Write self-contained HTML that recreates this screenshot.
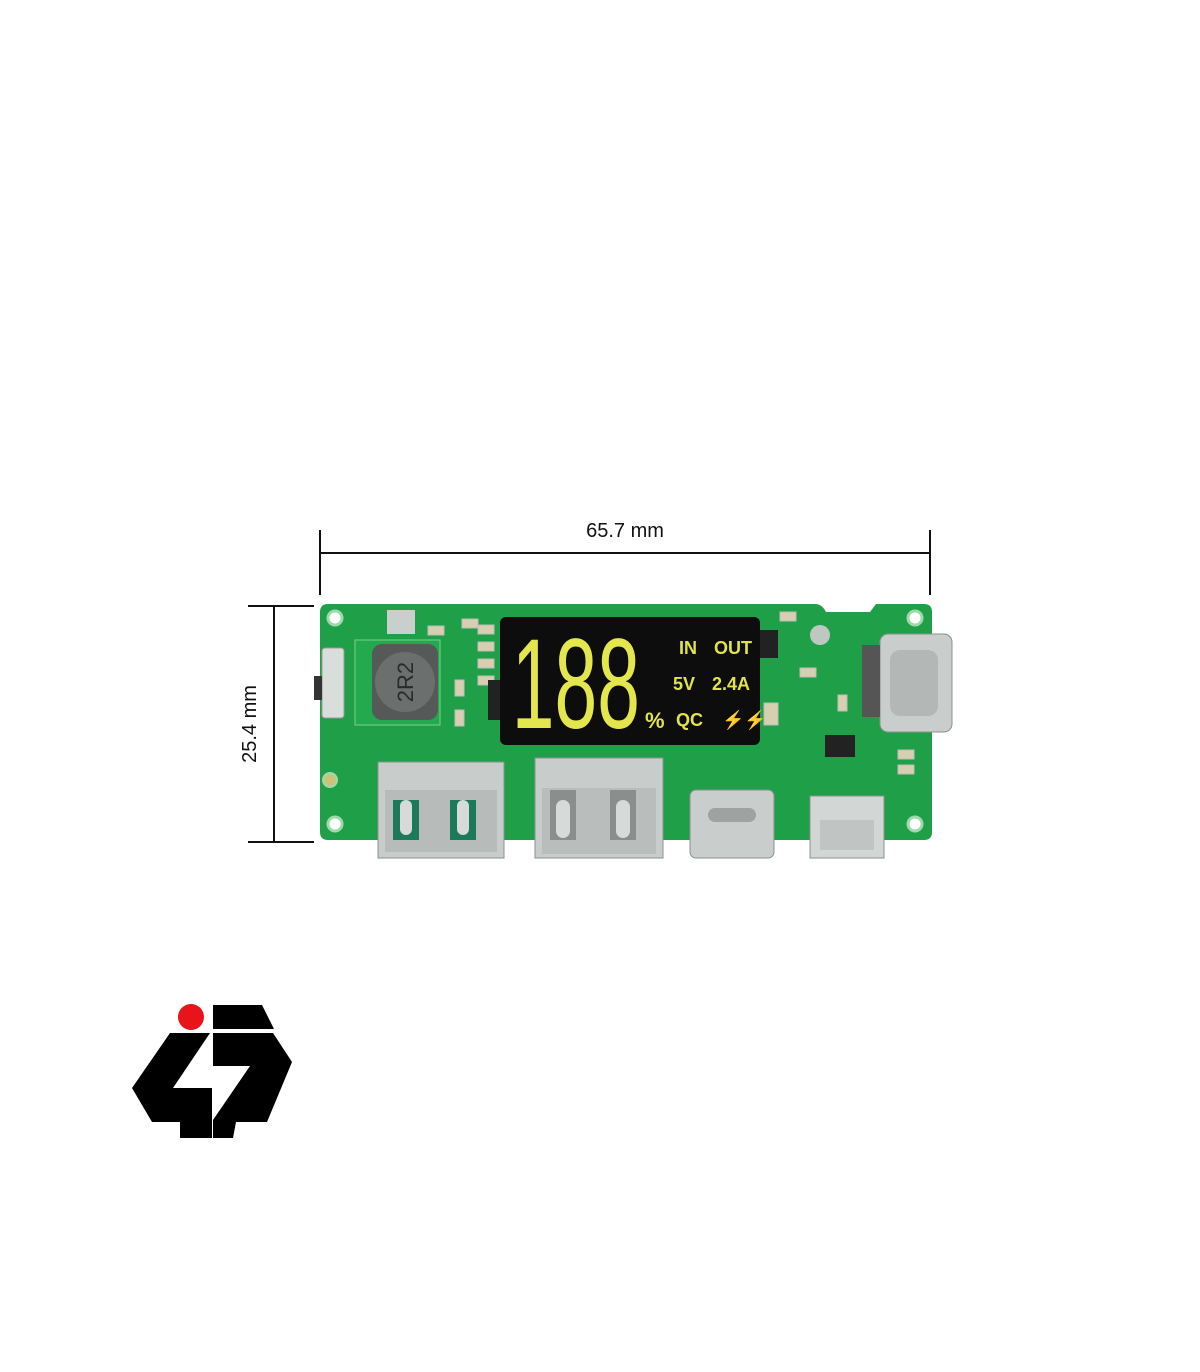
<!DOCTYPE html>
<html><head><meta charset="utf-8"><style>
html,body{margin:0;padding:0;background:#fff;}
svg{display:block;}
text{font-family:"Liberation Sans",sans-serif;}
</style></head><body>
<svg width="1200" height="1372" viewBox="0 0 1200 1372" xmlns="http://www.w3.org/2000/svg">
<rect width="1200" height="1372" fill="#fff"/>
<line x1="320" y1="553" x2="930" y2="553" stroke="#111" stroke-width="2"/>
<line x1="320" y1="530" x2="320" y2="595" stroke="#111" stroke-width="2"/>
<line x1="930" y1="530" x2="930" y2="595" stroke="#111" stroke-width="2"/>
<text x="625" y="537" font-size="20" text-anchor="middle" fill="#111">65.7 mm</text>
<line x1="274" y1="606" x2="274" y2="842" stroke="#111" stroke-width="2"/>
<line x1="248" y1="606" x2="314" y2="606" stroke="#111" stroke-width="2"/>
<line x1="248" y1="842" x2="314" y2="842" stroke="#111" stroke-width="2"/>
<text x="256" y="724" font-size="20" text-anchor="middle" fill="#111" transform="rotate(-90 256 724)">25.4 mm</text>
<path d="M328 604 H815 Q822 604 826 612 H870 L876 604 H924 Q932 604 932 612 V832 Q932 840 924 840 H328 Q320 840 320 832 V612 Q320 604 328 604 Z" fill="#1fa048"/>
<path d="M355 640 H440 V725 H355 Z" fill="#23a94e" stroke="#7ccf8e" stroke-width="1"/>
<circle cx="335" cy="618" r="7" fill="#fff" stroke="#9fd9ac" stroke-width="3"/>
<circle cx="915" cy="618" r="7" fill="#fff" stroke="#9fd9ac" stroke-width="3"/>
<circle cx="335" cy="824" r="7" fill="#fff" stroke="#9fd9ac" stroke-width="3"/>
<circle cx="915" cy="824" r="7" fill="#fff" stroke="#9fd9ac" stroke-width="3"/>
<circle cx="330" cy="780" r="7" fill="#c9c47a" stroke="#9fd9ac" stroke-width="2"/>
<circle cx="820" cy="635" r="10" fill="#bfc7c2"/>
<rect x="387" y="610" width="28" height="24" fill="#c9cfcc"/>
<rect x="322" y="648" width="22" height="70" rx="3" fill="#d9dedb" stroke="#999"/>
<rect x="314" y="676" width="8" height="24" fill="#333"/>
<rect x="372" y="644" width="66" height="76" rx="10" fill="#555a58"/>
<circle cx="405" cy="682" r="30" fill="#6b706e"/>
<text x="405" y="682" font-size="22" fill="#2a2a2a" text-anchor="middle" transform="rotate(-90 405 682)" dy="8">2R2</text>
<g fill="#d8cfb0" stroke="#bbb">
<rect x="462" y="619" width="16" height="9"/><rect x="478" y="625" width="16" height="9"/>
<rect x="478" y="642" width="16" height="9"/><rect x="478" y="659" width="16" height="9"/>
<rect x="478" y="676" width="16" height="9"/><rect x="428" y="626" width="16" height="9"/>
<rect x="455" y="680" width="9" height="16"/><rect x="455" y="710" width="9" height="16"/>
<rect x="764" y="703" width="14" height="22"/><rect x="800" y="668" width="16" height="9"/>
<rect x="838" y="695" width="9" height="16"/><rect x="898" y="750" width="16" height="9"/>
<rect x="898" y="765" width="16" height="9"/><rect x="780" y="612" width="16" height="9"/>
</g>
<rect x="760" y="630" width="18" height="28" fill="#222"/>
<rect x="488" y="680" width="14" height="40" fill="#222"/>
<rect x="825" y="735" width="30" height="22" fill="#222"/>
<rect x="500" y="617" width="260" height="128" rx="6" fill="#0d0d0d"/>
<text x="853" y="728" font-size="128" fill="#e3e64c" transform="scale(0.6 1)">188</text>
<text x="645" y="728" font-size="22" fill="#e0e34a" font-weight="bold">%</text>
<text x="679" y="654" font-size="18" fill="#e0e34a" font-weight="bold">IN</text>
<text x="714" y="654" font-size="18" fill="#e0e34a" font-weight="bold">OUT</text>
<text x="673" y="690" font-size="18" fill="#e0e34a" font-weight="bold">5V</text>
<text x="712" y="690" font-size="18" fill="#e0e34a" font-weight="bold">2.4A</text>
<text x="676" y="726" font-size="18" fill="#e0e34a" font-weight="bold">QC</text>
<text x="722" y="726" font-size="18" fill="#e0e34a" font-weight="bold">⚡⚡</text>
<rect x="378" y="762" width="126" height="96" fill="#c8ccca" stroke="#8c908e"/>
<rect x="385" y="790" width="112" height="62" fill="#b7bbb9"/>
<path d="M393 800 h26 v40 h-26 z M450 800 h26 v40 h-26 z" fill="#1c7a5a"/>
<rect x="400" y="800" width="12" height="35" rx="6" fill="#d7dad8"/>
<rect x="457" y="800" width="12" height="35" rx="6" fill="#d7dad8"/>
<rect x="535" y="758" width="128" height="100" fill="#c8ccca" stroke="#8c908e"/>
<rect x="542" y="788" width="114" height="66" fill="#b9bdbb"/>
<path d="M550 790 h26 v50 h-26 z M610 790 h26 v50 h-26 z" fill="#8a8e8c"/>
<rect x="556" y="800" width="14" height="38" rx="7" fill="#d7dad8"/>
<rect x="616" y="800" width="14" height="38" rx="7" fill="#d7dad8"/>
<rect x="690" y="790" width="84" height="68" rx="6" fill="#c9cdcb" stroke="#8c908e"/>
<rect x="708" y="808" width="48" height="14" rx="7" fill="#9ea2a0"/>
<rect x="810" y="796" width="74" height="62" fill="#d2d6d4" stroke="#8c908e"/>
<rect x="820" y="820" width="54" height="30" fill="#c0c4c2"/>
<rect x="880" y="634" width="72" height="98" rx="8" fill="#c9cdcb" stroke="#8c908e"/>
<rect x="890" y="650" width="48" height="66" rx="10" fill="#b3b7b5"/>
<rect x="862" y="645" width="18" height="72" fill="#555"/>
<circle cx="191" cy="1017" r="13" fill="#e8141a"/>
<polygon points="213,1005 262,1005 274,1029 213,1029" fill="#000"/>
<polygon points="170,1033 210,1033 173,1088 212,1088 212,1138 180,1138 180,1122 152,1122 132,1088" fill="#000"/>
<polygon points="213,1033 273,1033 292,1062 267,1122 236,1122 233,1138 213,1138 213,1120 250,1066 213,1066" fill="#000"/>
</svg>
</body></html>
